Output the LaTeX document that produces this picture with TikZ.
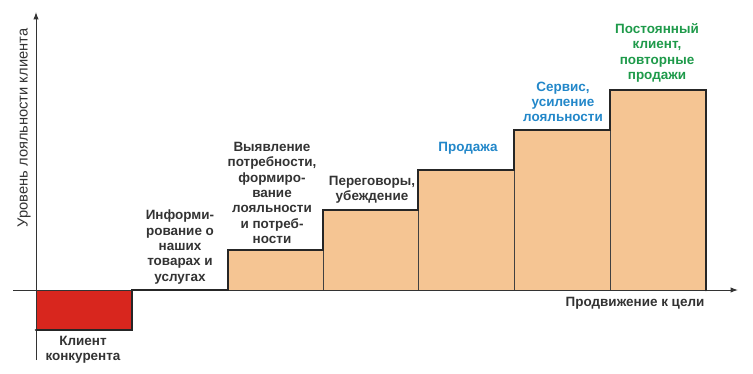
\documentclass[tikz,border=0pt]{standalone}
\usepackage{fontspec}
\setmainfont{Liberation Sans}
\usepackage{xcolor}
\usetikzlibrary{arrows.meta}
\definecolor{peach}{HTML}{F5C593}
\definecolor{redbox}{HTML}{D8261E}
\definecolor{txtblue}{HTML}{2287C9}
\definecolor{txtgreen}{HTML}{1E9A4A}
\definecolor{txtgray}{HTML}{333333}
\tikzset{
  lbl/.style={font=\bfseries\fontsize{10.1}{11.5}\selectfont,text=txtgray,align=center,inner sep=0pt},
  axis/.style={line width=0.75pt,txtgray},
  stair/.style={line width=2pt,black!85,line cap=round,line join=miter}
}
\begin{document}
\begin{tikzpicture}[x=0.75pt,y=-0.75pt]
\useasboundingbox (0,0) rectangle (753,374);
% steps
\foreach \xa/\xb/\h in {228/323/250,323/418/210,418/514/170,514/610/130,610/706/90}
  \filldraw[fill=peach,draw=black!75,line width=0.75pt] (\xa,290) rectangle (\xb,\h);
\fill[redbox] (36,290) rectangle (132,330);
% axes
\draw[axis,-{Latex[length=5.5pt,width=4pt]}] (36,360)--(36,12);
\draw[axis,-{Latex[length=5.5pt,width=4pt]}] (13,290)--(738,290);
\draw[stair] (36,330)--(132,330)--(132,290)--(228,290)--(228,250)--(323,250)--(323,210)--(418,210)--(418,170)--(514,170)--(514,130)--(610,130)--(610,90)--(706,90)--(706,290);
% labels
\node[lbl] (konk) at (83,350) {Клиент\\конкурента};
\node[lbl] (inform) at (180,247) {Информи-\\рование о\\наших\\товарах и\\услугах};
\node[lbl] (vyyavl) at (272,193) {Выявление\\потребности,\\формиро-\\вание\\лояльности\\и потреб-\\ности};
\node[lbl] (pereg) at (372,190) {Переговоры,\\убеждение};
\node[lbl,text=txtblue] (prodazha) at (468,148) {Продажа};
\node[lbl,text=txtblue] (servis) at (563,102) {Сервис,\\усиление\\лояльности};
\node[lbl,text=txtgreen] (postoyan) at (657,53) {Постоянный\\клиент,\\повторные\\продажи};
\node[lbl] (xlabel) at (635,303) {Продвижение к цели};
\node[lbl,font=\fontsize{11}{12}\selectfont,rotate=90] (ylabel) at (24,128) {Уровень лояльности клиента};
\end{tikzpicture}
\end{document}
